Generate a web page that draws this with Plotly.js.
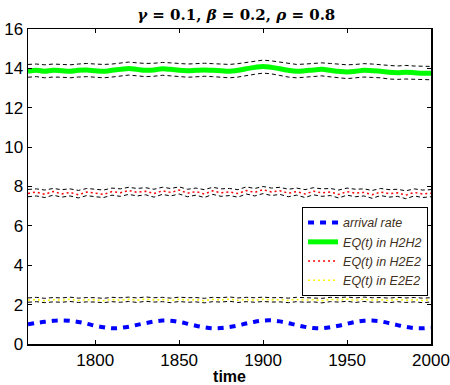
<!DOCTYPE html>
<html>
<head>
<meta charset="utf-8">
<script src="https://cdn.plot.ly/plotly-3.0.1.min.js"></script>
<style>html,body{margin:0;padding:0;background:#fff;}#chart{width:450px;height:385px;}</style>
</head>
<body>
<div id="chart"></div>
<script>
const time = [1760,1765,1770,1775,1780,1785,1790,1795,1800,1805,1810,1815,1820,1825,1830,1835,1840,1845,1850,1855,1860,1865,1870,1875,1880,1885,1890,1895,1900,1905,1910,1915,1920,1925,1930,1935,1940,1945,1950,1955,1960,1965,1970,1975,1980,1985,1990,1995,2000];

const arrivalRate = [1.00,1.07,1.13,1.18,1.20,1.18,1.12,1.03,0.93,0.85,0.80,0.82,0.88,0.97,1.06,1.14,1.19,1.18,1.12,1.03,0.93,0.85,0.80,0.81,0.86,0.94,1.04,1.13,1.19,1.20,1.15,1.06,0.96,0.87,0.81,0.80,0.85,0.93,1.03,1.12,1.18,1.19,1.15,1.06,0.96,0.87,0.81,0.80,0.83];

const eqH2H2 = [13.85,13.90,13.85,13.90,13.88,13.85,13.90,13.92,13.88,13.85,13.90,13.95,14.00,13.95,13.90,13.92,13.98,13.95,13.90,13.88,13.90,13.92,13.90,13.88,13.85,13.90,13.98,14.05,14.10,14.05,13.98,13.90,13.85,13.88,13.92,13.95,13.90,13.85,13.82,13.85,13.90,13.88,13.85,13.80,13.78,13.80,13.78,13.75,13.75];
const eqH2H2Upper = [14.20,14.22,14.18,14.22,14.20,14.18,14.22,14.25,14.22,14.20,14.22,14.28,14.32,14.28,14.25,14.26,14.30,14.28,14.25,14.22,14.24,14.26,14.24,14.22,14.20,14.24,14.30,14.38,14.42,14.38,14.32,14.25,14.20,14.22,14.26,14.28,14.25,14.20,14.18,14.20,14.24,14.22,14.20,14.15,14.12,14.15,14.12,14.10,14.10];
const eqH2H2Lower = [13.55,13.58,13.52,13.56,13.55,13.52,13.56,13.58,13.55,13.52,13.56,13.62,13.66,13.62,13.58,13.60,13.65,13.62,13.58,13.55,13.57,13.60,13.58,13.55,13.52,13.56,13.64,13.70,13.76,13.72,13.64,13.56,13.52,13.55,13.58,13.62,13.57,13.52,13.48,13.52,13.56,13.54,13.52,13.46,13.44,13.46,13.44,13.42,13.42];

const eqH2E2 = [7.65,7.72,7.60,7.75,7.62,7.70,7.58,7.72,7.66,7.60,7.74,7.68,7.80,7.70,7.76,7.64,7.78,7.70,7.82,7.66,7.74,7.62,7.78,7.68,7.72,7.64,7.80,7.70,7.84,7.72,7.78,7.66,7.74,7.62,7.76,7.68,7.72,7.60,7.74,7.66,7.70,7.58,7.72,7.64,7.68,7.56,7.70,7.62,7.66];
const eqH2E2Upper = [7.85,7.88,7.82,7.90,7.84,7.88,7.80,7.90,7.86,7.82,7.92,7.88,7.96,7.90,7.94,7.86,7.96,7.90,7.98,7.86,7.92,7.84,7.96,7.88,7.90,7.84,7.98,7.90,8.00,7.92,7.96,7.86,7.92,7.84,7.94,7.88,7.90,7.82,7.92,7.86,7.88,7.80,7.90,7.84,7.86,7.78,7.88,7.82,7.84];
const eqH2E2Lower = [7.48,7.52,7.44,7.56,7.46,7.52,7.42,7.54,7.48,7.44,7.56,7.50,7.60,7.52,7.58,7.46,7.60,7.52,7.62,7.48,7.56,7.44,7.60,7.50,7.54,7.46,7.62,7.52,7.64,7.54,7.60,7.48,7.56,7.44,7.58,7.50,7.54,7.42,7.56,7.48,7.52,7.40,7.54,7.46,7.50,7.38,7.52,7.44,7.48];

const eqE2E2 = [2.22,2.26,2.20,2.25,2.23,2.27,2.21,2.25,2.24,2.20,2.26,2.23,2.27,2.22,2.28,2.24,2.26,2.21,2.27,2.23,2.25,2.20,2.26,2.24,2.28,2.22,2.26,2.23,2.27,2.24,2.25,2.21,2.26,2.23,2.25,2.20,2.26,2.24,2.28,2.22,2.27,2.23,2.25,2.21,2.26,2.22,2.25,2.21,2.24];
const eqE2E2Upper = [2.34,2.37,2.32,2.36,2.34,2.38,2.33,2.36,2.35,2.32,2.37,2.35,2.38,2.34,2.39,2.35,2.37,2.33,2.38,2.35,2.36,2.32,2.37,2.35,2.39,2.34,2.37,2.35,2.38,2.35,2.36,2.33,2.37,2.35,2.36,2.32,2.37,2.35,2.39,2.34,2.38,2.35,2.36,2.33,2.37,2.34,2.36,2.33,2.35];
const eqE2E2Lower = [2.12,2.15,2.10,2.14,2.12,2.16,2.11,2.14,2.13,2.10,2.15,2.12,2.16,2.11,2.17,2.13,2.15,2.10,2.16,2.12,2.14,2.09,2.15,2.13,2.17,2.11,2.15,2.12,2.16,2.13,2.14,2.10,2.15,2.12,2.14,2.09,2.15,2.13,2.17,2.11,2.16,2.12,2.14,2.10,2.15,2.11,2.14,2.10,2.13];

const xTicks = [1800,1850,1900,1950,2000];
const yTicks = [0,2,4,6,8,10,12,14,16];

const bound = (y) => ({x: time, y: y, type: 'scatter', mode: 'lines', showlegend: false, hoverinfo: 'skip',
  line: {color: '#000000', width: 1, dash: '4px,3px'}});

const traces = [
  bound(eqH2H2Upper), bound(eqH2H2Lower),
  bound(eqH2E2Upper), bound(eqH2E2Lower),
  bound(eqE2E2Upper), bound(eqE2E2Lower),
  {x: time, y: arrivalRate, type: 'scatter', mode: 'lines', name: 'arrival rate',
   line: {color: '#0000ff', width: 4, dash: '6px,6px', shape: 'spline'}},
  {x: time, y: eqH2H2, type: 'scatter', mode: 'lines', name: 'EQ(t) in H2H2',
   line: {color: '#00ff00', width: 5, shape: 'spline'}},
  {x: time, y: eqH2E2, type: 'scatter', mode: 'lines', name: 'EQ(t) in H2E2',
   line: {color: '#ff0000', width: 1.5, dash: '2px,3px'}},
  {x: time, y: eqE2E2, type: 'scatter', mode: 'lines', name: 'EQ(t) in E2E2',
   line: {color: '#ffff00', width: 1.5, dash: '2px,3px'}}
];

const layout = {
  width: 450, height: 385,
  margin: {l: 28, r: 19, t: 29, b: 41},
  paper_bgcolor: '#ffffff', plot_bgcolor: '#ffffff',
  showlegend: true,
  title: {
    text: '<b><i>γ</i> = 0.1, <i>β</i> = 0.2, <i>ρ</i> = 0.8</b>',
    font: {family: 'DejaVu Serif, serif', size: 15, color: '#000000'},
    x: 0.525, xanchor: 'center', y: 0.975, yanchor: 'top'
  },
  xaxis: {
    range: [1760, 2000], tickvals: xTicks, ticktext: xTicks.map(String),
    ticks: 'inside', ticklen: 4, tickcolor: '#000', mirror: 'ticks',
    showline: true, linecolor: '#000', linewidth: 1.5, showgrid: false, zeroline: false,
    tickfont: {family: 'Liberation Sans, Arial, sans-serif', size: 17, color: '#000'},
    title: {text: '<b>time</b>', font: {family: 'Liberation Sans, Arial, sans-serif', size: 16, color: '#000'}, standoff: 2}
  },
  yaxis: {
    range: [0, 16], tickvals: yTicks, ticktext: yTicks.map(String),
    ticks: 'inside', ticklen: 4, tickcolor: '#000', mirror: 'ticks',
    showline: true, linecolor: '#000', linewidth: 1.5, showgrid: false, zeroline: false,
    tickfont: {family: 'Liberation Sans, Arial, sans-serif', size: 17, color: '#000'}
  },
  legend: {
    x: 0.68, xanchor: 'left', y: 0.435, yanchor: 'top',
    bgcolor: '#ffffff', bordercolor: '#000000', borderwidth: 1,
    font: {family: 'Liberation Sans, Arial, sans-serif', size: 12.5, color: '#3f3020', style: 'italic'},
    tracegroupgap: 0, itemwidth: 30
  }
};

Plotly.newPlot('chart', traces, layout, {displayModeBar: false, staticPlot: true});
</script>
</body>
</html>
